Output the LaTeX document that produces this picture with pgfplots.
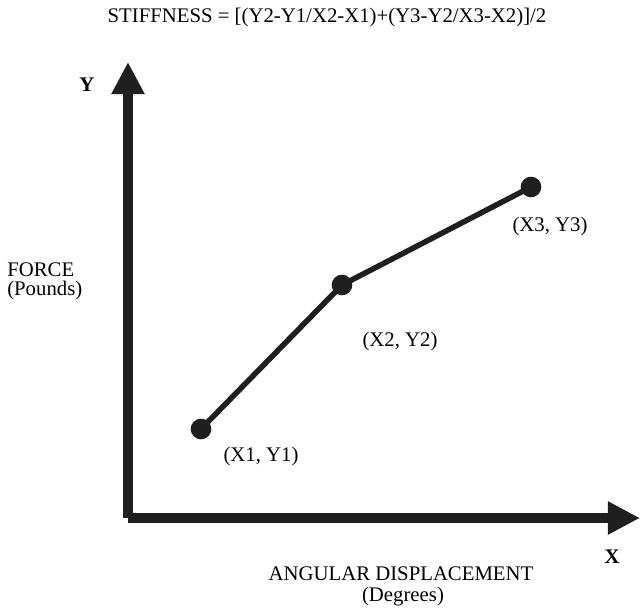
\documentclass[border=0pt]{standalone}
\usepackage{pgfplots}
\pgfplotsset{compat=1.18}
\usepackage{fontspec}
\setmainfont{Liberation Serif}
\usetikzlibrary{arrows.meta}
\tikzset{lbl/.style={inner sep=0pt, font=\fontsize{15}{17}\selectfont}}
\begin{document}
\begin{tikzpicture}
\begin{axis}[
  x=0.01in, y=0.01in,
  xmin=128, xmax=640, ymin=90, ymax=546,
  axis lines=left,
  axis line style={line width=0.1in, color=black!88, -{Triangle[length=0.32in,width=0.31in]}},
  xtick=\empty, ytick=\empty,
  clip=false,
]
\coordinate (bl) at (axis cs:0,0);
\coordinate (tr) at (axis cs:640,608);
\addplot[line width=0.055in, color=black!88, mark=*, mark size=0.075in, mark options={fill=black!88}]
  coordinates {(201,179) (342,323) (531,421)};
\node[lbl] at (axis cs:327,590) {STIFFNESS = [(Y2-Y1/X2-X1)+(Y3-Y2/X3-X2)]/2};
\node[lbl] at (axis cs:261,151) {(X1, Y1)};
\node[lbl] at (axis cs:400,266) {(X2, Y2)};
\node[lbl] at (axis cs:550,381) {(X3, Y3)};
\node[lbl, anchor=west] at (axis cs:7,338) {FORCE};
\node[lbl, anchor=west] at (axis cs:7,317) {(Pounds)};
\node[lbl, font=\bfseries\fontsize{15}{17}\selectfont] at (axis cs:87,523) {Y};
\node[lbl, font=\bfseries\fontsize{15}{17}\selectfont] at (axis cs:612,51) {X};
\node[lbl] at (axis cs:401,34) {ANGULAR DISPLACEMENT};
\node[lbl] at (axis cs:403,11) {(Degrees)};
\end{axis}
\pgfresetboundingbox
\path[use as bounding box] (bl) rectangle (tr);
\end{tikzpicture}
\end{document}
